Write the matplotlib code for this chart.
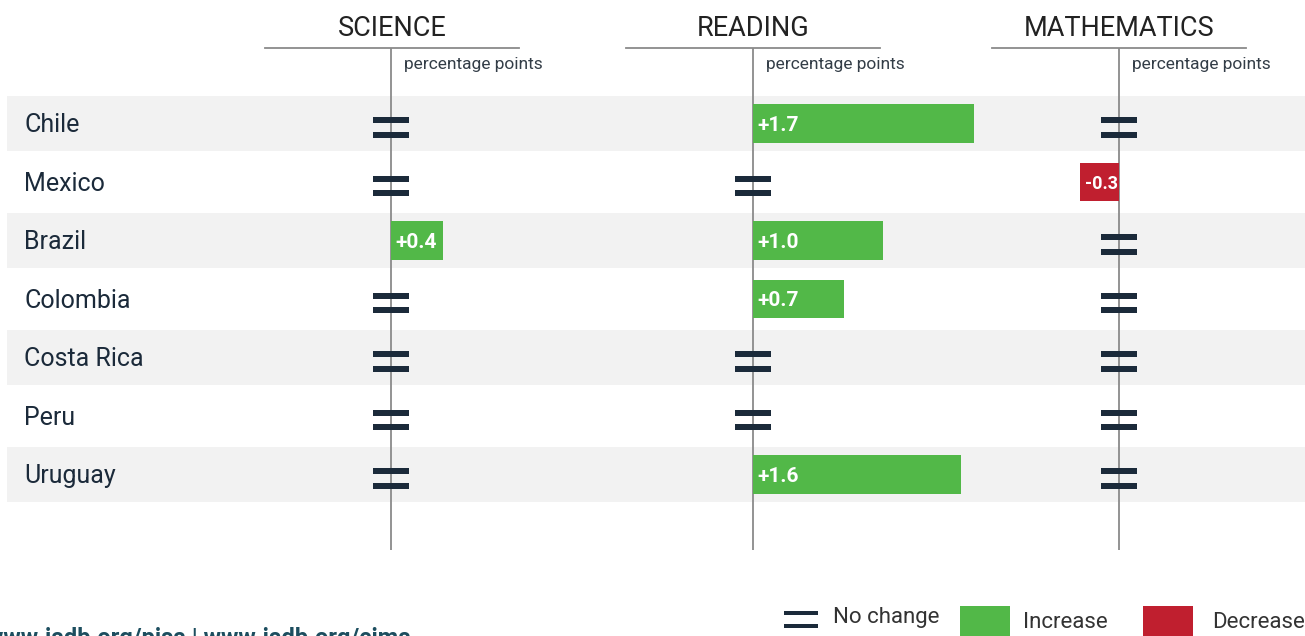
import numpy as np
import matplotlib
matplotlib.use('Agg')
import matplotlib.pyplot as plt

plt.rcParams['font.family'] = ['Roboto', 'DejaVu Sans']

# ---- data (percentage points; 0 = no change) ----
countries = ['Chile', 'Mexico', 'Brazil', 'Colombia', 'Costa Rica', 'Peru', 'Uruguay']
subjects = ['SCIENCE', 'READING', 'MATHEMATICS']
science = [0.0, 0.0, 0.4, 0.0, 0.0, 0.0, 0.0]
reading = [1.7, 0.0, 1.0, 0.7, 0.0, 0.0, 1.6]
maths = [0.0, -0.3, 0.0, 0.0, 0.0, 0.0, 0.0]
values = [science, reading, maths]

GREEN = '#52b848'
RED = '#c01f2f'
DARK = '#1b2a3a'
BAND = '#f2f2f2'
LINE = '#8a8a8a'

W, H = 1305, 636
ROW0, PITCH = 123.5, 58.5   # pixel centre of first row, row pitch
PPP = 130.0                 # pixels per percentage point


def row(px):
    return (px - ROW0) / PITCH


fig = plt.figure(figsize=(W / 100, H / 100), dpi=100)

# background axes: x in pixels, y in row units
bg = fig.add_axes([0, 0, 1, 1], zorder=0)
bg.set_xlim(0, W)
bg.set_ylim(row(H), row(0))
bg.axis('off')
for i, c in enumerate(countries):
    if i % 2 == 0:
        bg.axhspan(i - 0.47, i + 0.47, xmin=7 / W, xmax=1, color=BAND, lw=0)
    bg.text(24, i + 0.03, c, fontsize=18, color=DARK, va='center', ha='left')

# panels: (left px, right px, zero px)
panels = [(265, 519, 391), (626, 880, 753), (992, 1246, 1119)]
top_px, bot_px = 48, 550
eq_w, eq_h, eq_gap = 0.27, 0.105, 0.125

for (x0, x1, z), title, vals in zip(panels, subjects, values):
    ax = fig.add_axes([x0 / W, (H - bot_px) / H, (x1 - x0) / W, (bot_px - top_px) / H],
                      zorder=1)
    ax.patch.set_alpha(0)
    ax.set_xlim((x0 - z) / PPP, (x1 - z) / PPP)
    ax.set_ylim(row(bot_px), row(top_px))
    for s in ['left', 'right', 'bottom']:
        ax.spines[s].set_visible(False)
    ax.spines['top'].set_color(LINE)
    ax.spines['top'].set_linewidth(1.3)
    ax.set_xticks([])
    ax.set_yticks([])
    ax.axvline(0, color=LINE, lw=1.3, zorder=1)
    ax.set_title(title, fontsize=19.5, color='#222222', pad=9)
    ax.text(0.1, row(65), 'percentage points', fontsize=12.5, color='#333d47',
            va='center', ha='left')
    for i, v in enumerate(vals):
        if v == 0:
            yc = i + 0.07
            ax.barh([yc - eq_gap, yc + eq_gap], eq_w, left=-eq_w / 2, height=eq_h,
                    color=DARK, zorder=3, clip_on=False)
        else:
            col = GREEN if v > 0 else RED
            ax.barh(i, v, height=0.65, color=col, zorder=2, clip_on=False)
            ax.text(min(v, 0) + 0.035, i + 0.03, f'{v:+.1f}', color='white',
                    fontsize=15 if v > 0 else 13, fontweight='bold',
                    va='center', ha='left', zorder=4, clip_on=False)

# legend
ly = row(620)
bg.bar(801, 0.07, width=34, bottom=ly - 0.16, color=DARK)
bg.bar(801, 0.07, width=34, bottom=ly + 0.06, color=DARK)
bg.text(833, row(618), 'No change', fontsize=16, color='#333333', va='center')
bg.bar(985, row(H) - row(606), width=50, bottom=row(606), color=GREEN)
bg.text(1023, row(622), 'Increase', fontsize=16, color='#333333', va='center')
bg.bar(1168, row(H) - row(606), width=50, bottom=row(606), color=RED)
bg.text(1212, row(622), 'Decrease', fontsize=16, color='#333333', va='center')

# footer (partly cut off in the source)
fig.text(-14 / W, -14 / H, 'www.iadb.org/pisa | www.iadb.org/cima', fontsize=17,
         fontweight='bold', color='#1d4e5f', ha='left', va='bottom')

fig.savefig('out.png', dpi=100)
